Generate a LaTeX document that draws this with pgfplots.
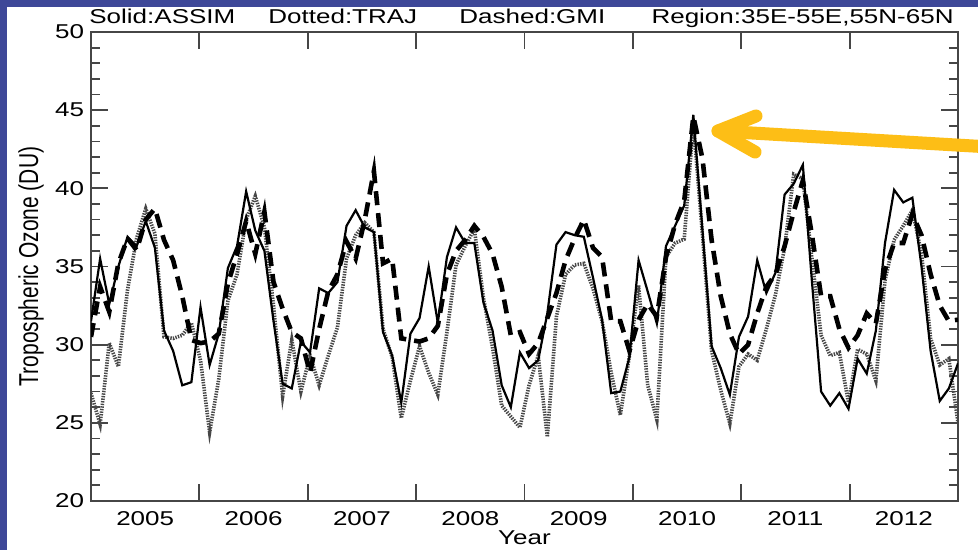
\documentclass[border=0pt]{standalone}
\usepackage{fontspec}
\setmainfont{Liberation Sans}
\usepackage{pgfplots}
\usepackage{pgfplotstable}
\pgfplotsset{compat=1.18}

\definecolor{slideblue}{RGB}{62,72,152}
\definecolor{arrowyellow}{RGB}{253,190,22}
\definecolor{framegray}{RGB}{70,70,70}

% Monthly tropospheric ozone column (DU), Jan 2005 - Dec 2012, index k = month
\pgfplotstableread{
k assim traj gmi
0 31.5 26.9 30.5
1 35.5 24.9 33.7
2 32.6 30.1 32.1
3 35.0 28.6 35.2
4 36.9 33.5 36.8
5 36.3 36.8 36.05
6 37.9 38.7 38.0
7 36.2 37.1 38.7
8 30.9 30.5 36.7
9 29.6 30.4 35.4
10 27.4 30.6 33.1
11 27.6 31.4 30.3
12 32.4 29.0 30.1
13 28.7 24.4 30.2
14 30.7 27.8 30.7
15 34.9 32.8 33.9
16 36.3 34.5 35.8
17 39.8 38.0 37.9
18 37.3 39.5 35.8
19 36.0 37.5 38.5
20 31.5 32.5 34.0
21 27.5 26.7 32.3
22 27.2 30.3 30.8
23 30.2 27.0 30.4
24 29.5 29.3 28.2
25 33.6 27.4 31.0
26 33.3 29.3 33.4
27 34.0 31.1 34.5
28 37.6 35.5 36.6
29 38.6 37.0 35.5
30 37.5 37.8 38.0
31 37.2 37.2 41.1
32 30.8 31.0 35.2
33 29.3 29.2 35.5
34 26.3 25.3 30.4
35 30.7 27.7 30.3
36 31.7 29.9 30.2
37 35.0 28.2 30.4
38 31.4 26.8 31.2
39 35.6 30.8 34.5
40 37.5 35.1 36.0
41 36.5 36.3 36.7
42 36.5 37.4 37.6
43 32.7 33.0 36.9
44 30.9 29.8 35.8
45 27.4 26.1 33.7
46 26.0 25.4 30.6
47 29.5 24.7 30.8
48 28.5 27.4 29.4
49 29.0 29.3 30.1
50 32.0 24.1 31.7
51 36.4 31.8 33.3
52 37.2 34.5 35.4
53 37.0 35.1 36.8
54 36.9 35.2 38.0
55 34.3 33.6 36.2
56 31.6 31.5 35.6
57 26.9 28.2 31.5
58 27.0 25.5 31.5
59 29.2 29.3 29.6
60 35.4 33.8 31.6
61 33.4 27.4 32.6
62 31.35 25.2 31.8
63 36.3 35.6 35.6
64 37.6 36.5 37.7
65 38.9 36.75 39.2
66 44.7 44.2 44.6
67 37.3 37.0 41.9
68 29.9 29.6 36.7
69 28.5 27.1 33.1
70 26.8 24.95 30.7
71 30.5 28.6 29.4
72 31.8 29.4 30.0
73 35.4 29.0 32.0
74 33.3 31.0 33.7
75 34.6 33.2 34.5
76 39.6 36.2 36.3
77 40.3 40.9 38.5
78 41.5 40.6 40.5
79 34.0 35.5 37.0
80 27.0 30.6 33.1
81 26.1 29.3 33.1
82 26.9 29.5 31.0
83 25.9 26.3 29.8
84 29.1 29.7 30.6
85 28.15 29.4 32.0
86 30.9 27.7 31.35
87 36.5 34.1 34.8
88 39.9 36.7 36.5
89 39.1 37.6 36.5
90 39.4 38.6 38.35
91 35.0 35.8 37.0
92 29.6 30.4 34.5
93 26.4 28.7 32.5
94 27.2 29.1 31.5
95 28.8 25.0 31.6
}\ozone

\begin{document}
\begin{tikzpicture}
% slide background with blue frame
\path[use as bounding box, clip] (0,0) rectangle (489pt,275pt);
\fill[white] (0,0) rectangle (489pt,275pt);
\fill[slideblue] (0,0) rectangle (3.5pt,275pt);
\fill[slideblue] (0,271.5pt) rectangle (489pt,275pt);

\begin{axis}[
  at={(45.5pt,24.5pt)}, anchor=south west,
  scale only axis, width=433.5pt, height=234.5pt,
  xmin=0, xmax=95, ymin=20, ymax=50,
  xtick={0,11.875,23.75,35.625,47.5,59.375,71.25,83.125,95},
  xticklabels={},
  extra x ticks={5.9375,17.8125,29.6875,41.5625,53.4375,65.3125,77.1875,89.0625},
  extra x tick labels={2005,2006,2007,2008,2009,2010,2011,2012},
  extra x tick style={major tick length=0pt},
  ytick={20,25,...,50},
  minor y tick num=4,
  tick align=inside,
  major tick length=8.5pt,
  minor tick length=4.5pt,
  axis line style={framegray, line width=0.9pt},
  every tick/.style={framegray, line width=0.9pt},
  /pgf/number format/assume math mode=true,
  tick label style={font=\fontsize{10}{12}\selectfont, xscale=1.3, inner sep=0pt},
  yticklabel style={anchor=east, xshift=-2.5pt},
  xticklabel style={anchor=north, yshift=-5pt},
  xlabel={Year},
  xlabel style={at={(axis description cs:0.5,0)}, anchor=north, yshift=-14.5pt,
    inner sep=0pt, font=\fontsize{10}{12}\selectfont, xscale=1.3},
  ylabel={Tropospheric Ozone (DU)},
  ylabel style={at={(axis description cs:-0.069,0.5)}, anchor=center,
    inner sep=0pt, font=\fontsize{10.5}{12}\selectfont, yscale=1.3},
]
\addplot[black!72, line width=1.8pt, dash pattern=on 0.7pt off 0.6pt] table[x=k, y=traj] {\ozone};
\addplot[black, line width=1.1pt] table[x=k, y=assim] {\ozone};
\addplot[black, line width=2.3pt, dash pattern=on 7pt off 4pt] table[x=k, y=gmi] {\ozone};
\end{axis}

% header line
\begin{scope}[every node/.style={inner sep=0pt, font=\fontsize{10}{12}\selectfont}]
\node[anchor=base west] at (44.5pt,263pt) {\scalebox{1.3}[1]{Solid:ASSIM}};
\node[anchor=base west] at (134pt,263pt) {\scalebox{1.3}[1]{Dotted:TRAJ}};
\node[anchor=base west] at (229.5pt,263pt) {\scalebox{1.3}[1]{Dashed:GMI}};
\node[anchor=base east] at (477pt,263pt) {\scalebox{1.3}[1]{Region:35E-55E,55N-65N}};
\end{scope}

% pointer to the summer 2010 maximum
\draw[arrowyellow, line width=6.5pt, line cap=round, line join=round]
  (378pt,217pt) -- (359pt,209.5pt) -- (377.5pt,199pt);
\draw[arrowyellow, line width=6.5pt, line cap=round]
  (359pt,209.5pt) -- (495pt,201.5pt);
\end{tikzpicture}
\end{document}
